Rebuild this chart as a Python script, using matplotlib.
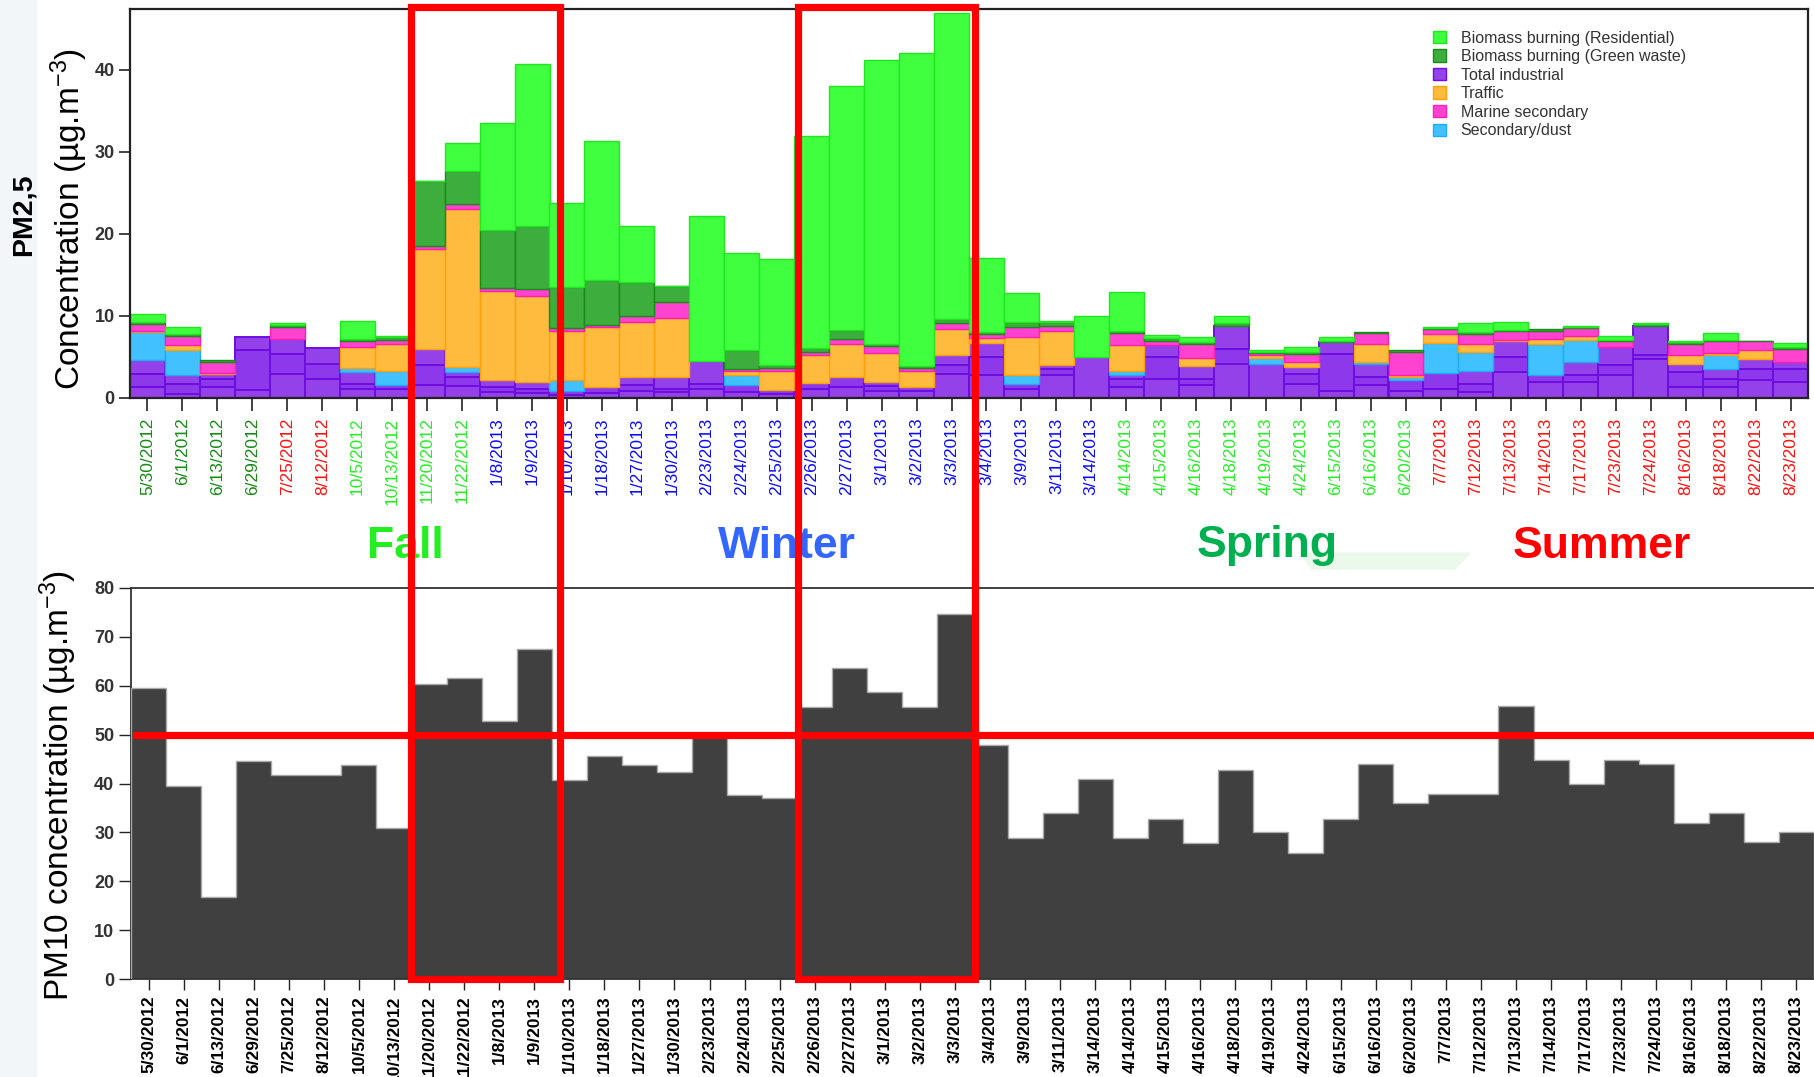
import numpy as np
import matplotlib
matplotlib.use('Agg')
import matplotlib.pyplot as plt
from matplotlib.patches import Patch, Rectangle, Polygon

plt.rcParams['font.family'] = ['Liberation Sans', 'DejaVu Sans']
plt.rcParams['mathtext.fontset'] = 'custom'
plt.rcParams['mathtext.rm'] = 'Liberation Sans'
plt.rcParams['mathtext.it'] = 'Liberation Sans:italic'
plt.rcParams['mathtext.bf'] = 'Liberation Sans:bold'

dates = ['5/30/2012', '6/1/2012', '6/13/2012', '6/29/2012', '7/25/2012', '8/12/2012',
         '10/5/2012', '10/13/2012', '11/20/2012', '11/22/2012', '1/8/2013', '1/9/2013',
         '1/10/2013', '1/18/2013', '1/27/2013', '1/30/2013', '2/23/2013', '2/24/2013',
         '2/25/2013', '2/26/2013', '2/27/2013', '3/1/2013', '3/2/2013', '3/3/2013',
         '3/4/2013', '3/9/2013', '3/11/2013', '3/14/2013', '4/14/2013', '4/15/2013',
         '4/16/2013', '4/18/2013', '4/19/2013', '4/24/2013', '6/15/2013', '6/16/2013',
         '6/20/2013', '7/7/2013', '7/12/2013', '7/13/2013', '7/14/2013', '7/17/2013',
         '7/23/2013', '7/24/2013', '8/16/2013', '8/18/2013', '8/22/2013', '8/23/2013']
season_code = ['G'] * 4 + ['R'] * 2 + ['L'] * 4 + ['B'] * 18 + ['L'] * 9 + ['R'] * 11

# total industrial, split into three stacked industrial factors (levels read at the inner stripes)
industrial = [4.65, 2.75, 2.95, 7.4, 7.2, 6.07, 3.2, 1.6, 6.0, 3.15, 2.2, 1.95, 0.8, 1.35, 2.55, 2.6,
              4.45, 1.55, 0.95, 1.8, 2.6, 2.0, 1.4, 5.25, 6.7, 1.75, 4.05, 5.05, 2.85, 6.4, 3.9, 8.8,
              4.15, 3.75, 6.8, 4.15, 2.15, 3.05, 3.25, 6.9, 2.75, 4.35, 6.2, 8.8, 4.1, 3.5, 4.8, 4.35]
industrial_level1 = [1.3, 0.5, 1.35, 0.95, 2.95, 2.35, 1.15, 1.1, 1.55, 1.5, 0.7, 0.6, 0.4, 0.6, 0.9, 0.7,
                     1.15, 0.7, 0.5, 1.15, 1.35, 0.8, 0.9, 2.95, 2.75, 1.15, 2.75, 5.05, 1.35, 2.35, 1.55, 4.2,
                     4.15, 1.75, 0.9, 1.55, 0.9, 1.15, 0.7, 3.15, 1.95, 1.95, 2.75, 4.8, 1.35, 1.35, 2.15, 1.95]
industrial_level2 = [2.95, 1.75, 2.35, 5.8, 5.4, 4.2, 1.75, 1.6, 4.0, 2.6, 1.35, 1.15, 0.8, 1.35, 1.55, 1.15,
                     1.75, 1.55, 0.95, 1.8, 2.6, 1.5, 1.4, 4.0, 5.0, 1.75, 3.55, 5.05, 2.35, 5.0, 2.35, 6.0,
                     4.15, 2.95, 5.4, 2.55, 2.15, 3.05, 1.75, 5.0, 2.75, 2.75, 4.0, 5.2, 3.15, 2.35, 3.55, 3.55]
dust = [3.35, 3.1, 0, 0, 0, 0, 0.45, 1.65, 0, 0.6, 0, 0, 1.4, 0, 0, 0,
        0, 1.3, 0, 0, 0, 0, 0, 0, 0, 1.0, 0, 0, 0.4, 0, 0, 0,
        0.7, 0, 0, 0.2, 0.4, 3.65, 2.35, 0, 3.85, 2.75, 0, 0, 0, 1.75, 0, 0]
traffic = [0.2, 0.55, 0.1, 0, 0, 0, 2.55, 3.35, 12.1, 19.3, 10.85, 10.5, 6.0, 7.25, 6.75, 7.1,
           0, 0.4, 2.4, 3.4, 4.0, 3.5, 1.85, 3.15, 0.6, 4.65, 4.15, 0, 3.15, 0, 0.95, 0,
           0.35, 0.6, 0, 2.25, 0.2, 1.1, 1.0, 0.2, 0.6, 0.5, 0, 0, 1.15, 0.25, 1.0, 0]
marine = [0.8, 1.2, 1.35, 0, 1.4, 0, 0.8, 0.5, 0.4, 0.55, 0.3, 0.8, 0.3, 0.3, 0.65, 1.95,
          0, 0.3, 0.3, 0.45, 0.6, 0.8, 0.4, 0.75, 0.5, 1.2, 0.55, 0, 1.5, 0.6, 1.75, 0,
          0.3, 1.05, 0, 1.3, 2.9, 0.55, 1.2, 1.1, 1.0, 0.9, 0.8, 0, 1.35, 1.5, 1.1, 1.65]
green_waste = [0.2, 0.2, 0.25, 0, 0.3, 0, 0.2, 0.3, 7.9, 4.0, 7.15, 7.65, 5.0, 5.45, 4.2, 1.95,
               0, 2.25, 0.4, 0.4, 1.1, 0.3, 0.3, 0.45, 0.3, 0.7, 0.45, 0, 0.3, 0.3, 0.2, 0.3,
               0.15, 0.2, 0.1, 0.2, 0.25, 0.15, 0.2, 0.1, 0.2, 0.2, 0.1, 0.25, 0.2, 0.1, 0.1, 0.2]
residential = [1.0, 0.8, 0, 0, 0.25, 0, 2.2, 0.1, 0.1, 3.5, 13.0, 19.85, 10.2, 16.95, 6.75, 0.1,
               17.7, 11.9, 12.85, 25.85, 29.7, 34.6, 38.05, 37.3, 9.0, 3.5, 0.2, 4.95, 4.75, 0.4, 0.6, 0.9,
               0.15, 0.6, 0.5, 0, 0, 0.1, 1.15, 0.9, 0, 0.1, 0.4, 0.1, 0.1, 0.8, 0, 0.5]
pm10 = [59.5, 39.5, 16.8, 44.7, 41.8, 41.8, 43.8, 30.8, 60.4, 61.5, 52.8, 67.5, 40.7, 45.7, 43.8, 42.4,
        49.5, 37.7, 37.1, 55.6, 63.7, 58.7, 55.6, 74.6, 47.9, 28.9, 33.9, 41.0, 28.9, 32.8, 27.9, 42.7,
        30.1, 25.8, 32.8, 43.9, 36.1, 37.8, 37.8, 55.8, 44.9, 39.8, 44.9, 43.9, 32.0, 34.0, 28.0, 30.1]

pm10_limit = 50
highlight_1 = (8, 11)
highlight_2 = (19, 23)

ind_tot = np.array(industrial)
lev1 = np.array(industrial_level1)
lev2 = np.array(industrial_level2)
ind_parts = [lev1, lev2 - lev1, ind_tot - lev2]

IND_FC, IND_EC = '#9541ea', '#6c0ee0'
layers = [
    ('Secondary/dust', dust, '#41c1ff', '#22a9f5'),
    ('Traffic', traffic, '#ffbb3e', '#ffa10a'),
    ('Marine secondary', marine, '#ff43d0', '#ff1fb4'),
    ('Biomass burning (Green waste)', green_waste, '#3dad3d', '#178c17'),
    ('Biomass burning (Residential)', residential, '#3fff3f', '#1fe81f'),
]
legend_order = ['Biomass burning (Residential)', 'Biomass burning (Green waste)', 'Total industrial',
                'Traffic', 'Marine secondary', 'Secondary/dust']
season_colors = {'G': '#168a16', 'R': '#ff1010', 'L': '#26ee26', 'B': '#0a0aff'}

W, H = 1814, 1077
fig = plt.figure(figsize=(W / 100, H / 100), dpi=100)

# faint slide decoration at left
fig.add_artist(Rectangle((0, 0), 36 / W, 1, transform=fig.transFigure, color='#f3f6f9', zorder=0))

ax1 = fig.add_axes([130 / W, 1 - 398 / H, 1678 / W, 389 / H])
ax2 = fig.add_axes([131 / W, 1 - 979 / H, 1683 / W, 391 / H])

x = np.arange(len(dates))
cum = np.zeros(len(dates))
handles = {}
ind_shades = ['#9541ea', '#8d38ea', '#9541ea']
for part, shade in zip(ind_parts, ind_shades):
    lw = np.where(part > 0, 1.4, 0.0)
    ax1.bar(x, part, width=1.0, bottom=cum, color=shade, edgecolor=IND_EC, linewidth=lw, zorder=2)
    cum += part
handles['Total industrial'] = Patch(facecolor=IND_FC, edgecolor=IND_EC, linewidth=1)
for name, vals, fc, ec in layers:
    v = np.array(vals, dtype=float)
    lw = np.where(v > 0, 1.0, 0.0)
    ax1.bar(x, v, width=1.0, bottom=cum, color=fc, edgecolor=ec, linewidth=lw, zorder=2)
    cum += v
    handles[name] = Patch(facecolor=fc, edgecolor=ec, linewidth=1)

ax1.set_xlim(-0.5, len(dates) - 0.5)
ax1.set_ylim(0, 47.4)
ax1.set_yticks([0, 10, 20, 30, 40])
ax1.set_xticks(x)
ax1.set_xticklabels(dates, rotation=90, fontsize=12.5, va='top', ha='center')
for lab, code in zip(ax1.get_xticklabels(), season_code):
    lab.set_color(season_colors[code])
ax1.tick_params(axis='x', direction='out', length=9, width=1.2, pad=5, color='#222222')
ax1.tick_params(axis='y', direction='out', length=8, width=1.2, pad=3, color='#222222',
                labelsize=13, labelcolor='#333333')
for lab in ax1.get_yticklabels():
    lab.set_fontweight('bold')
for s in ax1.spines.values():
    s.set_linewidth(1.6)
    s.set_color('#222222')
ax1.set_ylabel('Concentration (µg.m$^{\\mathregular{-3}}$)', fontsize=24)
ax1.yaxis.set_label_coords(-0.0238, 0.46)

leg = ax1.legend([handles[n] for n in legend_order], legend_order, loc='upper left',
                 bbox_to_anchor=(0.772, 0.965), frameon=False, fontsize=11.5,
                 handlelength=0.8, handleheight=0.8, handletextpad=0.9, labelspacing=0.22,
                 borderpad=0)
for t in leg.get_texts():
    t.set_color('#333333')

fig.text(24 / W, 1 - 215 / H, 'PM2,5', rotation=90, fontsize=20.5, fontweight='bold',
         ha='center', va='center')

# lower panel
edges = np.arange(len(pm10) + 1) - 0.5
ax2.stairs(pm10, edges, fill=True, color='#404040', zorder=2)
ax2.stairs(pm10, edges, color='#a8a8a8', linewidth=1.0, zorder=3)
ax2.axhline(pm10_limit, color='#ff0000', linewidth=5.2, zorder=4, xmin=0.003)
ax2.set_xlim(-0.5, len(pm10) - 0.5)
ax2.set_ylim(0, 80)
ax2.set_yticks(np.arange(0, 81, 10))
ax2.set_xticks(x)
ax2.set_xticklabels(dates, rotation=90, fontsize=12.5, fontweight='bold', va='top', ha='center')
ax2.tick_params(axis='x', direction='out', length=8, width=1.0, pad=4, color='#222222')
ax2.tick_params(axis='y', direction='out', length=9, width=1.0, pad=3, color='#222222',
                labelsize=13, labelcolor='#333333')
for lab in ax2.get_yticklabels():
    lab.set_fontweight('bold')
ax2.spines['right'].set_visible(False)
for s in ['top', 'left', 'bottom']:
    ax2.spines[s].set_linewidth(1.3)
    ax2.spines[s].set_color('#333333')
ax2.set_ylabel('PM10 concentration (µg.m$^{\\mathregular{-3}}$)', fontsize=24)
ax2.yaxis.set_label_coords(-0.0309, 0.494)

# season labels
seasons = [('Fall', 405, '#22ee22'), ('Winter', 787, '#3366ff'),
           ('Spring', 1267, '#00b050'), ('Summer', 1602, '#ff0000')]
fig.add_artist(Polygon([[1300 / W, 1 - 553 / H], [1470 / W, 1 - 553 / H], [1455 / W, 1 - 569 / H],
                        [1312 / W, 1 - 569 / H]], closed=True, transform=fig.transFigure,
                       color='#eaf9ea', zorder=0))
for name, xc, col in seasons:
    fig.text(xc / W, 1 - 546 / H, name, fontsize=32, fontweight='bold', color=col,
             ha='center', va='center', zorder=5)

# red highlight rectangles spanning both panels
inv = fig.transFigure.inverted()
y_bottom = inv.transform(ax2.transData.transform((0, 0)))[1]
y_top = 1 - 7 / H
for (a, b), (dl, dr) in zip([highlight_1, highlight_2], [(0.05, 0.3), (0.1, 0.17)]):
    x0 = inv.transform(ax1.transData.transform((a - 0.5 + dl, 0)))[0]
    x1 = inv.transform(ax1.transData.transform((b + 0.5 + dr, 0)))[0]
    fig.add_artist(Rectangle((x0, y_bottom), x1 - x0, y_top - y_bottom, transform=fig.transFigure,
                             fill=False, edgecolor='#ff0000', linewidth=5.2, zorder=10,
                             joinstyle='miter'))

fig.savefig('out.png', dpi=100)
